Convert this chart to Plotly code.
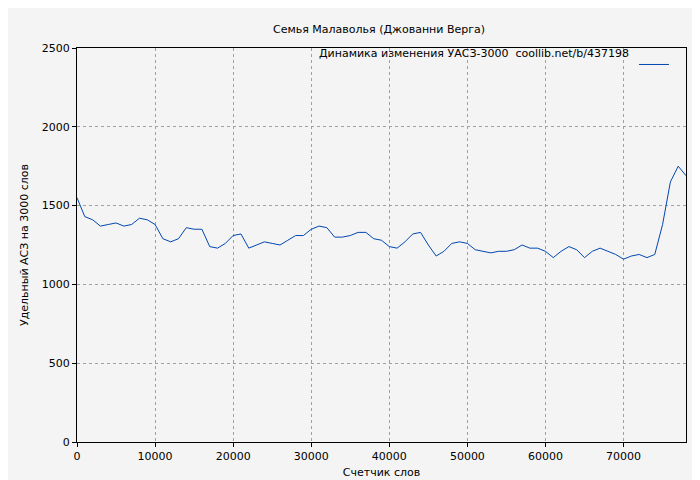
import plotly.graph_objects as go

words = list(range(0, 79000, 1000))
values = [1550,1430,1410,1370,1380,1390,1370,1380,1420,1410,1380,1290,1270,1290,1360,1350,1350,1240,1230,1260,
          1310,1320,1230,1250,1270,1260,1250,1280,1310,1310,1350,1370,1360,1300,1300,1310,1330,1330,1290,1280,
          1240,1230,1270,1320,1330,1250,1180,1210,1260,1270,1260,1220,1210,1200,1210,1210,1220,1250,1230,1230,
          1210,1170,1210,1240,1220,1170,1210,1230,1210,1190,1160,1180,1190,1170,1190,1380,1650,1750,1690]
series_name = "Динамика изменения УАСЗ-3000  coollib.net/b/437198"

fig = go.Figure(go.Scatter(x=words, y=values, mode="lines", name=" ",
                           line=dict(color="#0047b3", width=1)))
axis = dict(showgrid=True, gridcolor="#a0a0a0", griddash="dot", gridwidth=1,
            showline=True, linecolor="black", linewidth=1, mirror=True, zeroline=False,
            ticks="outside", tickcolor="black", ticklen=4, automargin=False,
            tickformat="d", tickfont=dict(size=11))
fig.update_layout(
    width=700, height=480, paper_bgcolor="#f4f4f4", plot_bgcolor="#f4f4f4",
    margin=dict(l=69, r=22, t=40, b=46),
    font=dict(family="DejaVu Sans", size=11, color="black"),
    title=dict(text="Семья Малаволья (Джованни Верга)", x=0.53, y=0.965, xanchor="center", font=dict(size=11)),
    showlegend=True,
    legend=dict(x=0.995, y=0.995, xanchor="right", yanchor="top", bgcolor="rgba(0,0,0,0)",
                itemwidth=30),
    xaxis=dict(axis, range=[0, 78000], dtick=10000, title=dict(text="Счетчик слов", standoff=6, font=dict(size=11))),
    yaxis=dict(axis, range=[0, 2500], dtick=500, title=dict(text="Удельный АСЗ на 3000 слов", standoff=10, font=dict(size=11))),
    annotations=[dict(text=series_name, xref="paper", yref="paper", x=0.91, y=0.985,
                      xanchor="right", yanchor="middle", showarrow=False, font=dict(size=11))],
)
fig.write_html("out.html")
